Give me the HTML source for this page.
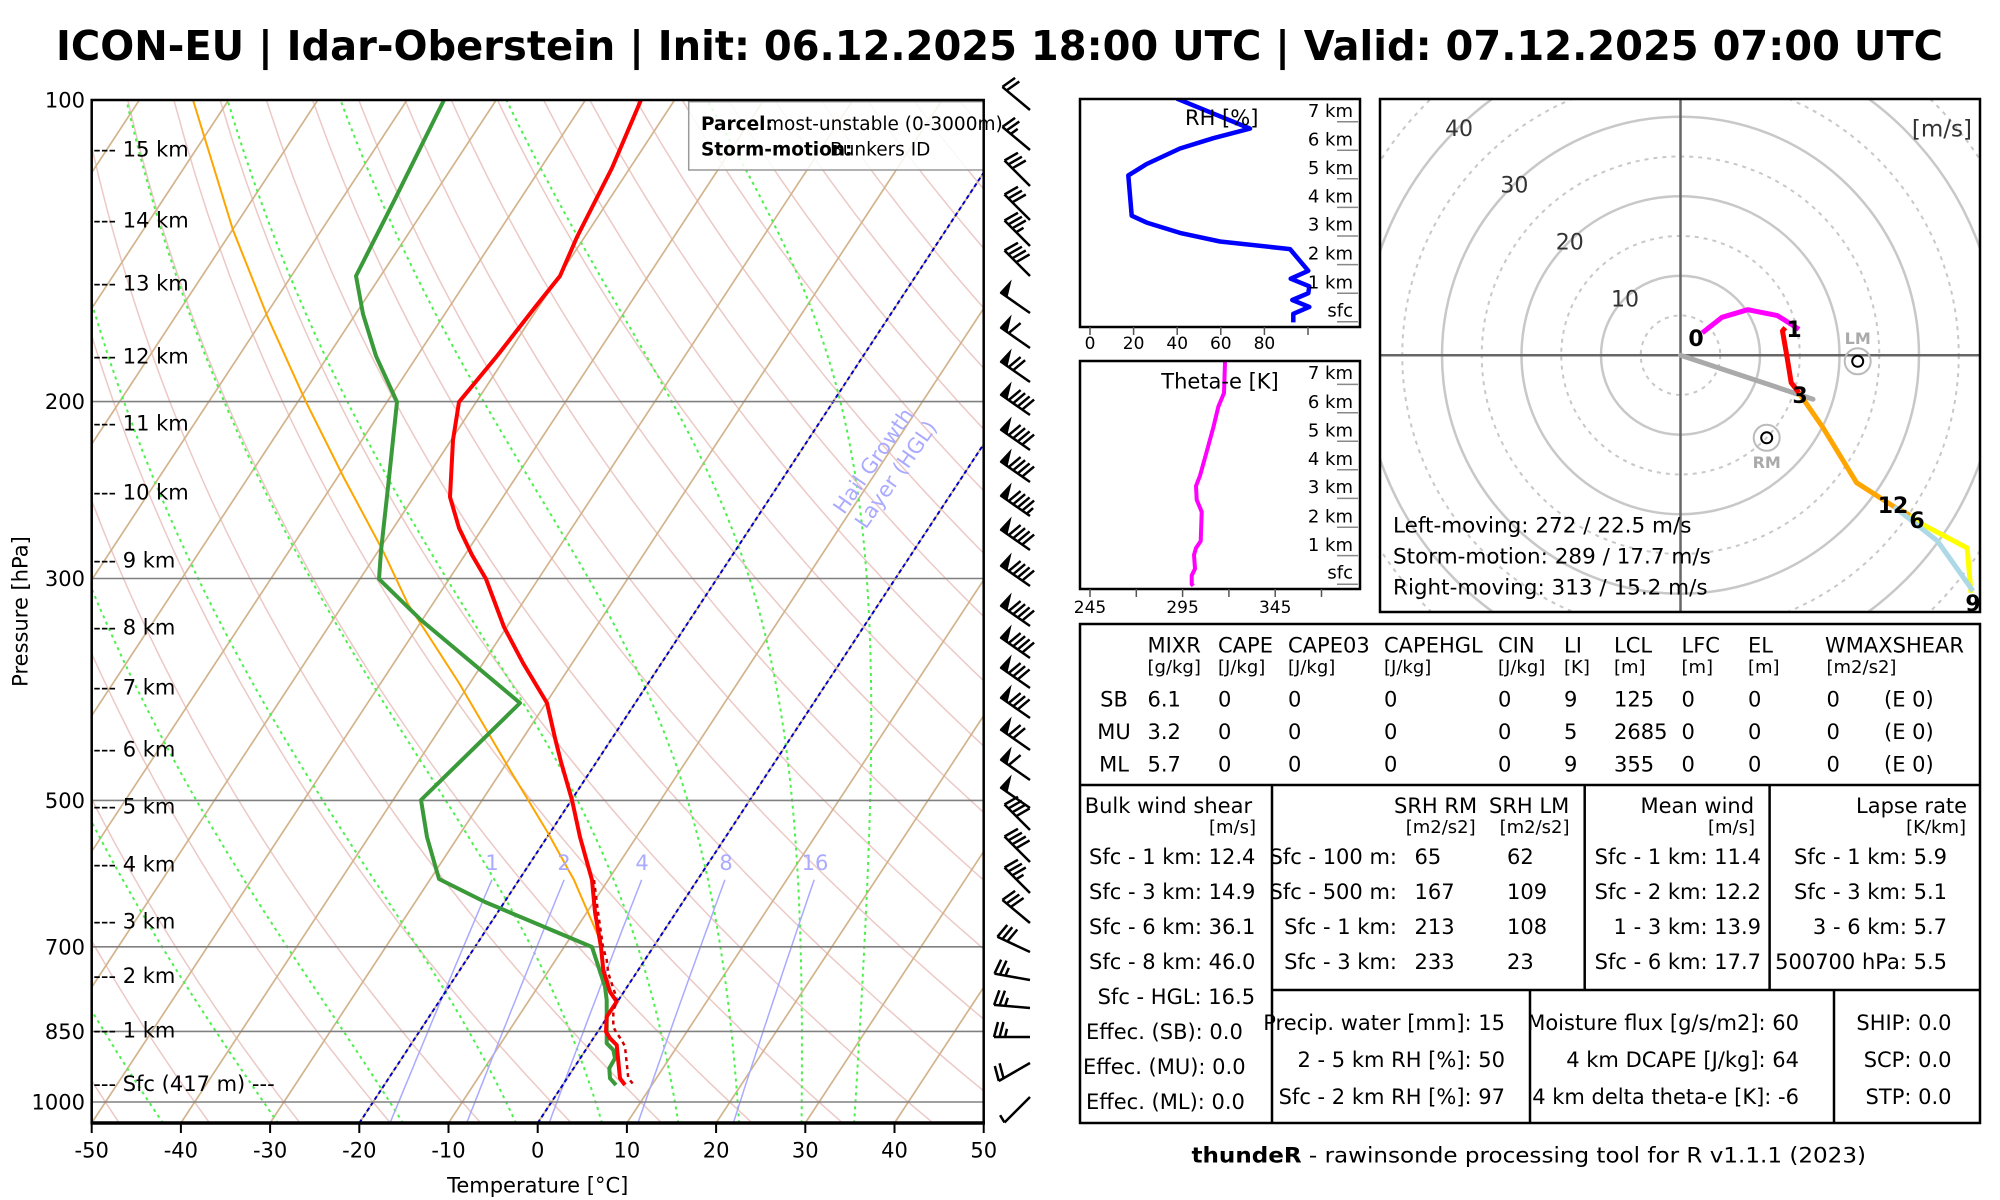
<!DOCTYPE html>
<html><head><meta charset="utf-8">
<style>
html,body{margin:0;padding:0;background:#fff;overflow:hidden;}
svg{display:block;}
text{font-family:"DejaVu Sans","Liberation Sans",sans-serif;fill:#000;}
.b{font-weight:bold;}
</style></head>
<body>
<svg id="s" width="2000" height="1200" viewBox="0 0 2000 1200" xmlns="http://www.w3.org/2000/svg">
<defs>
<clipPath id="cp"><rect x="91.7" y="100" width="892" height="1023"/></clipPath>
<clipPath id="ch"><rect x="1380" y="99" width="600" height="513"/></clipPath>
<clipPath id="crh"><rect x="1080" y="99" width="280" height="228"/></clipPath>
<clipPath id="cth"><rect x="1080" y="361" width="280" height="228"/></clipPath>
</defs>
<rect width="2000" height="1200" fill="#fff"/>

<!-- Title -->
<text x="56" y="60" font-size="41" class="b" textLength="1887" lengthAdjust="spacingAndGlyphs">ICON-EU | Idar-Oberstein | Init: 06.12.2025 18:00 UTC | Valid: 07.12.2025 07:00 UTC</text>

<!-- Skew-T background -->
<g clip-path="url(#cp)">
 <g id="dry" fill="none" stroke="#ecc9c6" stroke-width="1.5"></g>
 <g id="iso" stroke="#d2b48c" stroke-width="1.7">
  <line x1="-532.7" y1="1123" x2="139.4" y2="100"/>
  <line x1="-443.5" y1="1123" x2="228.6" y2="100"/>
  <line x1="-354.3" y1="1123" x2="317.8" y2="100"/>
  <line x1="-265.1" y1="1123" x2="407" y2="100"/>
  <line x1="-175.9" y1="1123" x2="496.2" y2="100"/>
  <line x1="-86.7" y1="1123" x2="585.4" y2="100"/>
  <line x1="2.5" y1="1123" x2="674.6" y2="100"/>
  <line x1="91.7" y1="1123" x2="763.8" y2="100"/>
  <line x1="180.9" y1="1123" x2="853" y2="100"/>
  <line x1="270.1" y1="1123" x2="942.2" y2="100"/>
  <line x1="359.3" y1="1123" x2="1031.4" y2="100"/>
  <line x1="448.5" y1="1123" x2="1120.6" y2="100"/>
  <line x1="537.7" y1="1123" x2="1209.8" y2="100"/>
  <line x1="626.9" y1="1123" x2="1299" y2="100"/>
  <line x1="716.1" y1="1123" x2="1388.2" y2="100"/>
  <line x1="805.3" y1="1123" x2="1477.4" y2="100"/>
  <line x1="894.5" y1="1123" x2="1566.6" y2="100"/>
  <line x1="983.7" y1="1123" x2="1655.8" y2="100"/>
 </g>
 <g id="moist" fill="none" stroke="#4cf04c" stroke-width="2" stroke-dasharray="3 4"></g>
 <g id="mix" fill="none" stroke="#aaaaff" stroke-width="1.5"></g>
 <g stroke="#0000cc" stroke-width="2" stroke-dasharray="4 3">
  <line x1="359.3" y1="1123" x2="1031.4" y2="100"/>
  <line x1="537.7" y1="1123" x2="1209.8" y2="100"/>
 </g>
 <g stroke="#808080" stroke-width="1.6">
  <line x1="91.7" y1="401.6" x2="983.7" y2="401.6"/>
  <line x1="91.7" y1="578.5" x2="983.7" y2="578.5"/>
  <line x1="91.7" y1="800.4" x2="983.7" y2="800.4"/>
  <line x1="91.7" y1="946.8" x2="983.7" y2="946.8"/>
  <line x1="91.7" y1="1031.4" x2="983.7" y2="1031.4"/>
  <line x1="91.7" y1="1102" x2="983.7" y2="1102"/>
 </g>
 <!-- HGL text -->
 <text x="873.5" y="468" font-size="21" fill="#aaaaff" style="fill:#aaaaff" text-anchor="middle" transform="rotate(-55 873.5 461)">Hail Growth</text>
 <text x="896" y="481.5" font-size="21" fill="#aaaaff" style="fill:#aaaaff" text-anchor="middle" transform="rotate(-55 896 474.5)">Layer (HGL)</text>
 <!-- parcel -->
 <polyline fill="none" stroke="#ffa500" stroke-width="2" points="193,100 233,230 268,318 306,402 344,478 383,551 408,604 459,683 510,770 548,833 574,880 603,947"/>
 <!-- dewpoint -->
 <polyline fill="none" stroke="#3a9a3a" stroke-width="4" stroke-linejoin="round" points="444,100 395,199 356,276 363,314 376,356 397,402 389,478 381,551 379,579 421,620 520,703 421,800 427,837 439,879 485,902 592,947 605,986.7 606.7,1000 606.7,1043.3 613.3,1050 615,1058.3 609.3,1068.3 610,1078.3 616,1085"/>
 <!-- temperature -->
 <polyline fill="none" stroke="#ff0000" stroke-width="4" stroke-linejoin="round" points="641,100 612,168 577,237 560,276 536,306 497,356 459,402 453,440 450,497 459,528 472,555 486,579 504,627 523,663 547,703 555,738 561,762 572,800 580,837 592,880 595,912 601,947 603.3,970 610,991.7 616.7,1001.7 606.7,1016.7 606,1031.7 610,1038.3 616.7,1045 620,1078.3 625,1085"/>
 <polyline fill="none" stroke="#cc0000" stroke-width="2.5" stroke-dasharray="4 4" points="594,880 598,912 603,947 606.7,960 608.3,973.3 615,993.3 617.3,1001.7 613.3,1010 613.3,1026.7 616.7,1033.3 621.7,1040 625,1046.7 628.3,1078.3 634,1085"/>
 <!-- mixing ratio labels -->
 <g font-size="21" text-anchor="middle" style="fill:#aaaaff">
  <text x="492" y="870" style="fill:#aaaaff">1</text>
  <text x="564" y="870" style="fill:#aaaaff">2</text>
  <text x="642" y="870" style="fill:#aaaaff">4</text>
  <text x="726" y="870" style="fill:#aaaaff">8</text>
  <text x="815" y="870" style="fill:#aaaaff">16</text>
 </g>
</g>
<!-- legend box -->
<rect x="688.7" y="101.7" width="294.6" height="68.3" fill="#fff" fill-opacity="0.85" stroke="#999" stroke-width="1.5"/>
<text x="701" y="130" font-size="18.5" class="b">Parcel:</text>
<text x="766" y="130" font-size="18.5">most-unstable (0-3000m)</text>
<text x="701" y="155.7" font-size="18.5" class="b">Storm-motion:</text>
<text x="830" y="155.7" font-size="18.5">Bunkers ID</text>

<!-- Skew-T frame -->
<rect x="91.7" y="100" width="892" height="1023" fill="none" stroke="#000" stroke-width="2.5"/>
<line x1="90.5" y1="1123" x2="985" y2="1123" stroke="#000" stroke-width="3.5"/>
<g stroke="#000" stroke-width="2">
 <line x1="91.7" y1="1123" x2="91.7" y2="1133"/><line x1="180.9" y1="1123" x2="180.9" y2="1133"/>
 <line x1="270.1" y1="1123" x2="270.1" y2="1133"/><line x1="359.3" y1="1123" x2="359.3" y2="1133"/>
 <line x1="448.5" y1="1123" x2="448.5" y2="1133"/><line x1="537.7" y1="1123" x2="537.7" y2="1133"/>
 <line x1="626.9" y1="1123" x2="626.9" y2="1133"/><line x1="716.1" y1="1123" x2="716.1" y2="1133"/>
 <line x1="805.3" y1="1123" x2="805.3" y2="1133"/><line x1="894.5" y1="1123" x2="894.5" y2="1133"/>
 <line x1="983.7" y1="1123" x2="983.7" y2="1133"/>
</g>
<g font-size="21" text-anchor="middle">
 <text x="91.7" y="1157.5">-50</text><text x="180.9" y="1157.5">-40</text><text x="270.1" y="1157.5">-30</text>
 <text x="359.3" y="1157.5">-20</text><text x="448.5" y="1157.5">-10</text><text x="537.7" y="1157.5">0</text>
 <text x="626.9" y="1157.5">10</text><text x="716.1" y="1157.5">20</text><text x="805.3" y="1157.5">30</text>
 <text x="894.5" y="1157.5">40</text><text x="983.7" y="1157.5">50</text>
</g>
<text x="537.7" y="1192.5" font-size="21" text-anchor="middle">Temperature [°C]</text>
<text x="0" y="0" font-size="21" text-anchor="middle" transform="translate(27.5 611.5) rotate(-90)">Pressure [hPa]</text>
<g font-size="21" text-anchor="end">
 <text x="85" y="107.5">100</text><text x="85" y="409">200</text><text x="85" y="586">300</text>
 <text x="85" y="808">500</text><text x="85" y="954.5">700</text><text x="85" y="1039">850</text>
 <text x="85" y="1109.5">1000</text>
</g>
<g font-size="21">
 <text x="93.3" y="156.5">--- 15 km</text><text x="93.3" y="227.5">--- 14 km</text>
 <text x="93.3" y="290.5">--- 13 km</text><text x="93.3" y="363.5">--- 12 km</text>
 <text x="93.3" y="430.5">--- 11 km</text><text x="93.3" y="499.5">--- 10 km</text>
 <text x="93.3" y="567.5">--- 9 km</text><text x="93.3" y="634.5">--- 8 km</text>
 <text x="93.3" y="694.5">--- 7 km</text><text x="93.3" y="756.5">--- 6 km</text>
 <text x="93.3" y="813.5">--- 5 km</text><text x="93.3" y="871.5">--- 4 km</text>
 <text x="93.3" y="928.5">--- 3 km</text><text x="93.3" y="983">--- 2 km</text>
 <text x="93.3" y="1037.5">--- 1 km</text><text x="93.3" y="1091">--- Sfc (417 m) ---</text>
</g>

<!-- wind barbs -->
<g id="barbs" stroke="#000" stroke-width="2.5" fill="#000" stroke-linecap="butt"></g>

<!-- RH panel -->
<g clip-path="url(#crh)">
 <polyline fill="none" stroke="#0000ff" stroke-width="4.5" stroke-linejoin="round" points="1176.7,98.6 1250,128.6 1213.3,138.2 1180,148.5 1146.7,164 1128.3,175.4 1131.7,215.7 1146.7,222.6 1180,232.9 1220,241.5 1290,249.1 1308.3,270.8 1290.7,278.7 1309.3,286.3 1308.3,293.2 1292.3,300 1309.3,306.9 1293.3,313.8 1293.3,322.4"/>
</g>
<rect x="1080" y="99" width="280" height="228" fill="none" stroke="#000" stroke-width="2.5"/>
<text x="1221.7" y="125" font-size="21" text-anchor="middle">RH [%]</text>
<g stroke="#888" stroke-width="1.5">
 <line x1="1337" y1="121.7" x2="1358" y2="121.7"/><line x1="1337" y1="150.3" x2="1358" y2="150.3"/>
 <line x1="1337" y1="178.8" x2="1358" y2="178.8"/><line x1="1337" y1="207.4" x2="1358" y2="207.4"/>
 <line x1="1337" y1="236" x2="1358" y2="236"/><line x1="1337" y1="264.6" x2="1358" y2="264.6"/>
 <line x1="1337" y1="293.2" x2="1358" y2="293.2"/><line x1="1337" y1="321.7" x2="1358" y2="321.7"/>
</g>
<g font-size="18" text-anchor="end">
 <text x="1353" y="117.2">7 km</text><text x="1353" y="145.5">6 km</text><text x="1353" y="174">5 km</text>
 <text x="1353" y="202.5">4 km</text><text x="1353" y="230.5">3 km</text><text x="1353" y="259.5">2 km</text>
 <text x="1353" y="288.5">1 km</text><text x="1353" y="316.5">sfc</text>
</g>
<g stroke="#555" stroke-width="1.5">
 <line x1="1090" y1="327" x2="1090" y2="335"/><line x1="1133.6" y1="327" x2="1133.6" y2="335"/>
 <line x1="1177.2" y1="327" x2="1177.2" y2="335"/><line x1="1220.8" y1="327" x2="1220.8" y2="335"/>
 <line x1="1264.4" y1="327" x2="1264.4" y2="335"/><line x1="1308" y1="327" x2="1308" y2="335"/>
</g>
<g font-size="17" text-anchor="middle">
 <text x="1090" y="349">0</text><text x="1133.6" y="349">20</text><text x="1177.2" y="349">40</text>
 <text x="1220.8" y="349">60</text><text x="1264.4" y="349">80</text>
</g>

<!-- Theta-e panel -->
<g clip-path="url(#cth)">
 <polyline fill="none" stroke="#ff00ff" stroke-width="4" stroke-linejoin="round" points="1225,362 1224,393 1218.3,406.8 1213.3,427.5 1206.7,451.6 1200,475.7 1196,486 1196.7,499.8 1201.7,511.8 1200.7,541.1 1196,548 1194,554.9 1195,568.7 1191.7,575.5 1191.7,584.1 1193.3,585.8"/>
</g>
<rect x="1080" y="361" width="280" height="228" fill="none" stroke="#000" stroke-width="2.5"/>
<text x="1220" y="388.5" font-size="21" text-anchor="middle">Theta-e [K]</text>
<g stroke="#888" stroke-width="1.5">
 <line x1="1337" y1="384.4" x2="1358" y2="384.4"/><line x1="1337" y1="412.7" x2="1358" y2="412.7"/>
 <line x1="1337" y1="441.2" x2="1358" y2="441.2"/><line x1="1337" y1="469.8" x2="1358" y2="469.8"/>
 <line x1="1337" y1="498.4" x2="1358" y2="498.4"/><line x1="1337" y1="527.3" x2="1358" y2="527.3"/>
 <line x1="1337" y1="555.6" x2="1358" y2="555.6"/><line x1="1337" y1="584.2" x2="1358" y2="584.2"/>
</g>
<g font-size="18" text-anchor="end">
 <text x="1353" y="378.9">7 km</text><text x="1353" y="408.1">6 km</text><text x="1353" y="436.4">5 km</text>
 <text x="1353" y="465">4 km</text><text x="1353" y="493.2">3 km</text><text x="1353" y="522.5">2 km</text>
 <text x="1353" y="551">1 km</text><text x="1353" y="578.5">sfc</text>
</g>
<g stroke="#555" stroke-width="1.5">
 <line x1="1090" y1="589" x2="1090" y2="597"/><line x1="1136.3" y1="589" x2="1136.3" y2="597"/>
 <line x1="1182.6" y1="589" x2="1182.6" y2="597"/><line x1="1228.9" y1="589" x2="1228.9" y2="597"/>
 <line x1="1275.2" y1="589" x2="1275.2" y2="597"/><line x1="1321.5" y1="589" x2="1321.5" y2="597"/>
</g>
<g font-size="17" text-anchor="middle">
 <text x="1090" y="613">245</text><text x="1182.6" y="613">295</text><text x="1275.2" y="613">345</text>
</g>

<!-- Hodograph -->
<g clip-path="url(#ch)">
 <g fill="none" stroke="#c8c8c8" stroke-width="2.5">
  <circle cx="1680.5" cy="355.2" r="79.5"/><circle cx="1680.5" cy="355.2" r="159"/>
  <circle cx="1680.5" cy="355.2" r="238.5"/><circle cx="1680.5" cy="355.2" r="318"/>
  <circle cx="1680.5" cy="355.2" r="397.5"/><circle cx="1680.5" cy="355.2" r="477"/>
 </g>
 <g fill="none" stroke="#c8c8c8" stroke-width="2" stroke-dasharray="4 5">
  <circle cx="1680.5" cy="355.2" r="39.75"/><circle cx="1680.5" cy="355.2" r="119.25"/>
  <circle cx="1680.5" cy="355.2" r="198.75"/><circle cx="1680.5" cy="355.2" r="278.25"/>
  <circle cx="1680.5" cy="355.2" r="357.75"/><circle cx="1680.5" cy="355.2" r="437.25"/>
 </g>
 <line x1="1380" y1="355.2" x2="1980" y2="355.2" stroke="#666" stroke-width="2.5"/>
 <line x1="1680.5" y1="99" x2="1680.5" y2="612" stroke="#666" stroke-width="2.5"/>
 <g font-size="22" text-anchor="middle" style="fill:#333">
  <text x="1625" y="306.3" style="fill:#333">10</text><text x="1569.8" y="249.5" style="fill:#333">20</text>
  <text x="1514.4" y="192.7" style="fill:#333">30</text><text x="1459" y="136" style="fill:#333">40</text>
 </g>
 <text x="1972" y="136.5" font-size="23" text-anchor="end" style="fill:#333">[m/s]</text>
 <line x1="1680.5" y1="355.2" x2="1813" y2="399.2" stroke="#aaa" stroke-width="5" stroke-linecap="round"/>
 <g fill="none" stroke-width="5" stroke-linejoin="round">
  <polyline stroke="#ff00ff" points="1702.3,332.8 1722,317.3 1747.7,309.7 1777.4,315.6 1791.2,324.2 1799,329.3"/>
  <polyline stroke="#ff0000" points="1785.3,327.6 1782.5,331 1787.3,358.6 1791.2,382.7 1799,392.9"/>
  <polyline stroke="#ffa500" points="1799,392.9 1822.9,427.5 1856.5,482.6 1894,506.7 1909.9,515.3"/>
  <polyline stroke="#ffff00" points="1909.9,515.3 1921.7,523.9 1967.2,548 1971,592.8"/>
  <polyline stroke="#add8e6" points="1894,506.7 1937.5,541 1973,591"/>
 </g>
 <g font-size="22" class="b" text-anchor="middle">
  <text x="1696" y="346">0</text><text x="1794" y="337">1</text><text x="1800" y="403">3</text>
  <text x="1893" y="513">12</text><text x="1917" y="528">6</text><text x="1973" y="611">9</text>
 </g>
 <circle cx="1857.7" cy="361.3" r="13" fill="none" stroke="#bbb" stroke-width="2"/>
 <circle cx="1857.7" cy="361.3" r="5.5" fill="none" stroke="#000" stroke-width="2"/>
 <text x="1857.7" y="344" font-size="16" class="b" text-anchor="middle" style="fill:#aaa">LM</text>
 <circle cx="1766.7" cy="437.8" r="13" fill="none" stroke="#bbb" stroke-width="2"/>
 <circle cx="1766.7" cy="437.8" r="5.5" fill="none" stroke="#000" stroke-width="2"/>
 <text x="1766.7" y="468" font-size="16" class="b" text-anchor="middle" style="fill:#aaa">RM</text>
 <g font-size="21.5">
  <text x="1393" y="532.4">Left-moving: 272 / 22.5 m/s</text>
  <text x="1393" y="563.4">Storm-motion: 289 / 17.7 m/s</text>
  <text x="1393" y="594.3">Right-moving: 313 / 15.2 m/s</text>
 </g>
</g>
<rect x="1380" y="99" width="600" height="513" fill="none" stroke="#000" stroke-width="2.5"/>

<!-- Table -->
<g fill="none" stroke="#000" stroke-width="2.5">
 <rect x="1080" y="624" width="900" height="499"/>
 <line x1="1080" y1="785" x2="1980" y2="785"/>
 <line x1="1272" y1="785" x2="1272" y2="1123"/>
 <line x1="1584.7" y1="785" x2="1584.7" y2="990"/>
 <line x1="1769.6" y1="785" x2="1769.6" y2="990"/>
 <line x1="1272" y1="990" x2="1980" y2="990"/>
 <line x1="1530" y1="990" x2="1530" y2="1123"/>
 <line x1="1834" y1="990" x2="1834" y2="1123"/>
</g>
<g font-size="21">
 <text x="1147.5" y="652.5">MIXR</text><text x="1218" y="652.5">CAPE</text><text x="1288" y="652.5">CAPE03</text>
 <text x="1384" y="652.5">CAPEHGL</text><text x="1498" y="652.5">CIN</text><text x="1564" y="652.5">LI</text>
 <text x="1614" y="652.5">LCL</text><text x="1681.5" y="652.5">LFC</text><text x="1748" y="652.5">EL</text>
 <text x="1825" y="652.5">WMAXSHEAR</text>
</g>
<g font-size="18">
 <text x="1147.5" y="673.2">[g/kg]</text><text x="1218" y="673.2">[J/kg]</text><text x="1288" y="673.2">[J/kg]</text>
 <text x="1384" y="673.2">[J/kg]</text><text x="1498" y="673.2">[J/kg]</text><text x="1564" y="673.2">[K]</text>
 <text x="1614" y="673.2">[m]</text><text x="1681.5" y="673.2">[m]</text><text x="1748" y="673.2">[m]</text>
 <text x="1826.5" y="673.2">[m2/s2]</text>
</g>
<g font-size="21">
 <text x="1114" y="706.5" text-anchor="middle">SB</text><text x="1147.5" y="706.5">6.1</text><text x="1218" y="706.5">0</text>
 <text x="1288" y="706.5">0</text><text x="1384" y="706.5">0</text><text x="1498" y="706.5">0</text><text x="1564" y="706.5">9</text>
 <text x="1614" y="706.5">125</text><text x="1681.5" y="706.5">0</text><text x="1748" y="706.5">0</text><text x="1826.5" y="706.5">0</text>
 <text x="1884" y="706.5">(E 0)</text>
 <text x="1114" y="739.2" text-anchor="middle">MU</text><text x="1147.5" y="739.2">3.2</text><text x="1218" y="739.2">0</text>
 <text x="1288" y="739.2">0</text><text x="1384" y="739.2">0</text><text x="1498" y="739.2">0</text><text x="1564" y="739.2">5</text>
 <text x="1614" y="739.2">2685</text><text x="1681.5" y="739.2">0</text><text x="1748" y="739.2">0</text><text x="1826.5" y="739.2">0</text>
 <text x="1884" y="739.2">(E 0)</text>
 <text x="1114" y="771.5" text-anchor="middle">ML</text><text x="1147.5" y="771.5">5.7</text><text x="1218" y="771.5">0</text>
 <text x="1288" y="771.5">0</text><text x="1384" y="771.5">0</text><text x="1498" y="771.5">0</text><text x="1564" y="771.5">9</text>
 <text x="1614" y="771.5">355</text><text x="1681.5" y="771.5">0</text><text x="1748" y="771.5">0</text><text x="1826.5" y="771.5">0</text>
 <text x="1884" y="771.5">(E 0)</text>
</g>
<!-- bottom block headers -->
<g font-size="21">
 <text x="1084.7" y="813.2">Bulk wind shear</text>
 <text x="1394" y="813.2">SRH RM</text><text x="1489" y="813.2">SRH LM</text>
 <text x="1640.5" y="813.2">Mean wind</text>
 <text x="1856" y="813.2">Lapse rate</text>
</g>
<g font-size="18">
 <text x="1256" y="833.2" text-anchor="end">[m/s]</text>
 <text x="1405.7" y="833.2">[m2/s2]</text><text x="1499.6" y="833.2">[m2/s2]</text>
 <text x="1755" y="833.2" text-anchor="end">[m/s]</text>
 <text x="1966" y="833.2" text-anchor="end">[K/km]</text>
</g>
<g font-size="21">
 <text x="1089" y="864.2">Sfc - 1 km: 12.4</text>
 <text x="1089" y="899.2">Sfc - 3 km: 14.9</text>
 <text x="1089" y="934.2">Sfc - 6 km: 36.1</text>
 <text x="1089" y="969.2">Sfc - 8 km: 46.0</text>
 <text x="1097.6" y="1004.2">Sfc - HGL: 16.5</text>
 <text x="1086" y="1039.2">Effec. (SB): 0.0</text>
 <text x="1083" y="1074.2">Effec. (MU): 0.0</text>
 <text x="1086" y="1109.2">Effec. (ML): 0.0</text>
</g>
<g font-size="21" text-anchor="end">
 <text x="1397" y="864.2">Sfc - 100 m:</text><text x="1397" y="899.2">Sfc - 500 m:</text>
 <text x="1397" y="934.2">Sfc - 1 km:</text><text x="1397" y="969.2">Sfc - 3 km:</text>
</g>
<g font-size="21">
 <text x="1414.5" y="864.2">65</text><text x="1507" y="864.2">62</text>
 <text x="1414.5" y="899.2">167</text><text x="1507" y="899.2">109</text>
 <text x="1414.5" y="934.2">213</text><text x="1507" y="934.2">108</text>
 <text x="1414.5" y="969.2">233</text><text x="1507" y="969.2">23</text>
</g>
<g font-size="21" text-anchor="end">
 <text x="1761" y="864.2">Sfc - 1 km: 11.4</text><text x="1761" y="899.2">Sfc - 2 km: 12.2</text>
 <text x="1761" y="934.2">1 - 3 km: 13.9</text><text x="1761" y="969.2">Sfc - 6 km: 17.7</text>
 <text x="1947" y="864.2">Sfc - 1 km: 5.9</text><text x="1947" y="899.2">Sfc - 3 km: 5.1</text>
 <text x="1947" y="934.2">3 - 6 km: 5.7</text><text x="1947" y="969.2">500700 hPa: 5.5</text>
 <text x="1505" y="1030.2">Precip. water [mm]: 15</text>
 <text x="1505" y="1066.8">2 - 5 km RH [%]: 50</text>
 <text x="1505" y="1104.2">Sfc - 2 km RH [%]: 97</text>
 <text x="1799" y="1030.2">Moisture flux [g/s/m2]: 60</text>
 <text x="1799" y="1066.8">4 km DCAPE [J/kg]: 64</text>
 <text x="1799" y="1104.2">4 km delta theta-e [K]: -6</text>
 <text x="1951.5" y="1030.2">SHIP: 0.0</text>
 <text x="1951.5" y="1066.8">SCP: 0.0</text>
 <text x="1951.5" y="1104.2">STP: 0.0</text>
</g>
<!-- footer -->
<text x="1191.5" y="1162.5" font-size="21" textLength="674.5" lengthAdjust="spacingAndGlyphs"><tspan class="b">thundeR</tspan> - rawinsonde processing tool for R v1.1.1 (2023)</text>
</svg>
<script>
(function(){
var NS="http://www.w3.org/2000/svg";
function Y(p){return 100+435.2*Math.log(p/100);}
function X(T,p){return 91.7+(T+50)*8.92+(1123-Y(p))*0.657;}
function pl(g,pts){var e=document.createElementNS(NS,'polyline');e.setAttribute('points',pts.map(function(a){return a[0].toFixed(1)+','+a[1].toFixed(1);}).join(' '));g.appendChild(e);}
var gd=document.getElementById('dry');
for(var th=-50;th<=220;th+=10){var pts=[];for(var p=1050;p>=100;p-=10){var T=(th+273.15)*Math.pow(p/1000,0.2857)-273.15;pts.push([X(T,p),Y(p)]);}pl(gd,pts);}
function es(Tc){return 6.112*Math.exp(17.67*Tc/(Tc+243.5));}
function g(T,p){var Rd=287.04,cp=1005.7,Lv=2.501e6,eps=0.622;var e=es(T-273.15);var rs=eps*e/(p-e);return (Rd*T+Lv*rs)/p/(cp+Lv*Lv*rs*eps/(Rd*T*T));}
var gm=document.getElementById('moist');
[-41.97,-29.07,-15.06,-2.4,7.25,15.8,22.6,29.6,35.5].forEach(function(T0){var T=T0+273.15,p=1050,dp=-2;var pts=[[X(T0,p),Y(p)]];while(p>100){var k1=g(T,p);var k2=g(T+k1*dp,p+dp);T+=0.5*(k1+k2)*dp;p+=dp;pts.push([X(T-273.15,p),Y(p)]);}pl(gm,pts);});
var gw=document.getElementById('mix');
[1,2,4,8,16].forEach(function(w){var pts=[];for(var p=1050;p>=600;p-=10){var e=w*p/(622+w);var l=Math.log(e/6.112);var Td=243.5*l/(17.67-l);pts.push([X(Td,p),Y(p)]);}pl(gw,pts);});
var gb=document.getElementById('barbs');
var B=[[110,310,20],[150,310,25],[186,315,30],[220,315,30],[246,315,35],[276,315,40],
[313,305,50],[348,305,60],[382,305,70],[415,305,90],[450,305,90],[482,305,90],[516,305,95],[550,305,90],[586,305,90],
[626,305,90],[658,305,90],[688,305,80],[718,305,80],[750,305,70],[780,305,60],[808,305,50],
[830,315,40],[862,315,40],[893,315,35],[923,310,30],[952,295,30],[980,280,25],[1008,275,25],[1037,270,25],[1063,240,20],[1097,225,5]];
B.forEach(function(b){
 var x=1030,y=b[0],r=b[1]*Math.PI/180,kt=b[2];
 var dx=Math.sin(r),dy=-Math.cos(r),px=-dy,py=dx,L=36,tl=15,sp=5.5,fw=8;
 var tx=x+dx*L,ty=y+dy*L;
 var d='M'+x.toFixed(1)+','+y.toFixed(1)+'L'+tx.toFixed(1)+','+ty.toFixed(1);
 var n=Math.round(kt/5)*5,f=Math.floor(n/50);n-=f*50;var fu=Math.floor(n/10);n-=fu*10;var h=n>=5;
 var pos=0,i,sx,sy,fl='';
 for(i=0;i<f;i++){sx=tx-dx*pos;sy=ty-dy*pos;var bx=tx-dx*(pos+fw),by=ty-dy*(pos+fw);var ax=sx+px*tl-dx*2,ay=sy+py*tl-dy*2;
  fl+='M'+sx.toFixed(1)+','+sy.toFixed(1)+'L'+ax.toFixed(1)+','+ay.toFixed(1)+'L'+bx.toFixed(1)+','+by.toFixed(1)+'Z';pos+=fw+2;}
 for(i=0;i<fu;i++){sx=tx-dx*pos;sy=ty-dy*pos;d+='M'+sx.toFixed(1)+','+sy.toFixed(1)+'L'+(sx+px*tl-dx*4).toFixed(1)+','+(sy+py*tl-dy*4).toFixed(1);pos+=sp;}
 if(h){sx=tx-dx*pos;sy=ty-dy*pos;d+='M'+sx.toFixed(1)+','+sy.toFixed(1)+'L'+(sx+px*tl*0.55-dx*2).toFixed(1)+','+(sy+py*tl*0.55-dy*2).toFixed(1);}
 var e=document.createElementNS(NS,'path');e.setAttribute('d',d);e.setAttribute('fill','none');gb.appendChild(e);
 if(fl){var e2=document.createElementNS(NS,'path');e2.setAttribute('d',fl);e2.setAttribute('stroke-width','1');gb.appendChild(e2);}
});
})();
</script>
</body></html>
